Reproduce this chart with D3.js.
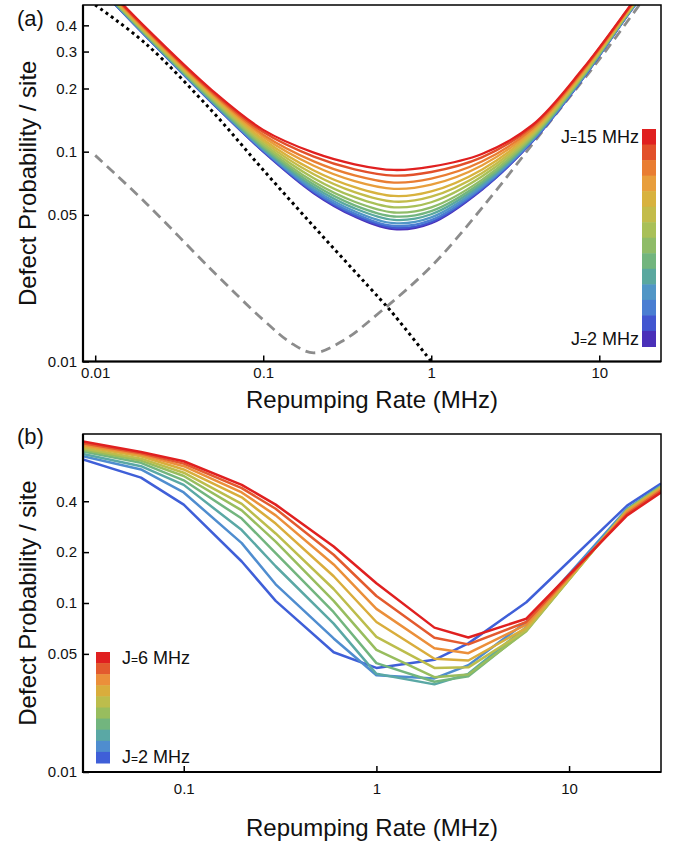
<!DOCTYPE html>
<html lang="en">
<head>
<meta charset="utf-8">
<title>Defect probability vs repumping rate</title>
<script src="https://d3js.org/d3.v7.min.js"></script>
<style>
  body { margin: 0; background: #fff; }
  svg { display: block; font-family: "Liberation Sans", Arial, sans-serif; }
  .axis path { display: none; }
  .axis line { stroke: #000; stroke-width: 1.5; }
  .axis text { font-size: 15px; fill: #111; }
  .title { font-size: 24px; fill: #111; }
  .panel { font-size: 22px; fill: #111; }
  .leg { font-size: 18px; fill: #111; }
</style>
</head>
<body>
<svg width="674" height="845"></svg>
<script>

// ---- panel (a): model curves, J = 15 ... 2 MHz ----
var rateA = [0.01, 0.02, 0.05, 0.1, 0.2, 0.35, 0.6, 1, 2, 4, 8, 16, 20];
var probA = [
  [0.692, 0.390, 0.195, 0.127, 0.0989, 0.0871, 0.0818, 0.0849, 0.0975, 0.134, 0.249, 0.522, 0.662],   // J=15
  [0.685, 0.386, 0.192, 0.124, 0.0947, 0.0824, 0.0769, 0.0800, 0.0939, 0.1317, 0.2463, 0.519, 0.657],
  [0.678, 0.382, 0.189, 0.1205, 0.0899, 0.0771, 0.0712, 0.0744, 0.0897, 0.1289, 0.2432, 0.515, 0.650],
  [0.671, 0.378, 0.187, 0.1175, 0.0857, 0.0724, 0.0665, 0.0696, 0.0860, 0.1264, 0.2404, 0.511, 0.644],
  [0.664, 0.374, 0.184, 0.1143, 0.0814, 0.0678, 0.0615, 0.0647, 0.0821, 0.1238, 0.2373, 0.507, 0.638],
  [0.659, 0.371, 0.181, 0.1117, 0.0780, 0.0641, 0.0578, 0.0610, 0.0790, 0.1216, 0.2349, 0.504, 0.633],
  [0.653, 0.367, 0.179, 0.1091, 0.0748, 0.0607, 0.0543, 0.0574, 0.0761, 0.1195, 0.2325, 0.501, 0.628],
  [0.647, 0.365, 0.177, 0.1069, 0.0718, 0.0577, 0.0513, 0.0543, 0.0734, 0.1176, 0.2302, 0.498, 0.623],
  [0.644, 0.362, 0.175, 0.1052, 0.0697, 0.0555, 0.0491, 0.0521, 0.0715, 0.1161, 0.2286, 0.496, 0.619],
  [0.640, 0.360, 0.173, 0.1038, 0.0679, 0.0537, 0.0473, 0.0503, 0.0699, 0.1149, 0.2272, 0.494, 0.616],
  [0.637, 0.358, 0.172, 0.1023, 0.0663, 0.0520, 0.0456, 0.0486, 0.0684, 0.1138, 0.2258, 0.492, 0.613],
  [0.634, 0.356, 0.171, 0.1014, 0.0650, 0.0507, 0.0443, 0.0472, 0.0672, 0.1128, 0.2247, 0.490, 0.611],
  [0.632, 0.356, 0.170, 0.1005, 0.0640, 0.0497, 0.0434, 0.0462, 0.0663, 0.1121, 0.2239, 0.489, 0.609],
  [0.631, 0.355, 0.170, 0.100, 0.0634, 0.0491, 0.0427, 0.0456, 0.0658, 0.1117, 0.2234, 0.489, 0.608]    // J=2
];
var colorsA = ["#e02020", "#e2502a", "#e97d32", "#e89e3c", "#d8b23e", "#c3bc4a", "#a9c057",
               "#8fbc68", "#72b57e", "#5aa89f", "#5196c6", "#4a7ed2", "#4256d0", "#4a30b9"];

var dottedRate = [0.01, 0.02, 0.05, 0.1, 0.2, 0.35, 0.5, 0.6, 1];
var dottedProb = [0.5, 0.327, 0.155, 0.0818, 0.044, 0.0269, 0.0197, 0.0167, 0.0100];
var dashedRate = [0.01, 0.02, 0.05, 0.1, 0.15, 0.2, 0.3, 0.5, 1, 2, 5, 10, 20];
var dashedProb = [0.096, 0.057, 0.027, 0.0158, 0.0121, 0.0110, 0.0126, 0.0173, 0.0284, 0.0538, 0.1364, 0.275, 0.587];

var xTicksA = [0.01, 0.1, 1, 10];
var yTicksA = [0.01, 0.05, 0.1, 0.2, 0.3, 0.4];
var legendA = ["15", "2"];

// ---- panel (b): J = 6 ... 2 MHz ----
var rateB = [0.03, 0.06, 0.1, 0.2, 0.3, 0.6, 1, 2, 3, 6, 20, 30];
var probB = [
  [0.902, 0.782, 0.690, 0.500, 0.382, 0.216, 0.131, 0.0715, 0.0625, 0.0807, 0.330, 0.451],   // J=6
  [0.882, 0.768, 0.668, 0.478, 0.361, 0.193, 0.110, 0.0622, 0.0569, 0.0772, 0.337, 0.461],
  [0.863, 0.755, 0.645, 0.451, 0.330, 0.169, 0.0923, 0.0540, 0.0505, 0.0744, 0.345, 0.470],
  [0.844, 0.738, 0.617, 0.422, 0.295, 0.144, 0.0772, 0.0468, 0.0457, 0.0712, 0.350, 0.478],
  [0.825, 0.715, 0.590, 0.386, 0.258, 0.121, 0.0631, 0.0413, 0.0416, 0.0690, 0.353, 0.482],
  [0.807, 0.696, 0.564, 0.353, 0.231, 0.103, 0.0528, 0.0364, 0.0377, 0.0681, 0.356, 0.487],
  [0.789, 0.675, 0.532, 0.316, 0.197, 0.0882, 0.0441, 0.0342, 0.0369, 0.0690, 0.356, 0.489],
  [0.761, 0.645, 0.500, 0.270, 0.165, 0.0755, 0.0381, 0.0330, 0.0381, 0.0722, 0.356, 0.491],
  [0.738, 0.617, 0.451, 0.226, 0.129, 0.0617, 0.0374, 0.0358, 0.0428, 0.0772, 0.361, 0.493],
  [0.706, 0.552, 0.382, 0.176, 0.103, 0.0511, 0.0413, 0.0461, 0.0577, 0.101, 0.377, 0.509]    // J=2
];
var colorsB = ["#e02020", "#e35a2e", "#eb8f3a", "#d9ad3c", "#bcbd4c", "#98bd5e", "#72b57e",
               "#5aa8a5", "#4f8dcf", "#3f5fd8"];

var xTicksB = [0.1, 1, 10];
var yTicksB = [0.01, 0.05, 0.1, 0.2, 0.4];
var legendB = ["6", "2"];

var svg = d3.select("svg");
var fmt = d3.format("~g");

function frame(x, y, name, nameY, xTicks, yTicks, xPad, clipId) {
  var x0 = x.range()[0], x1 = x.range()[1], y0 = y.range()[0], y1 = y.range()[1];

  svg.append("clipPath").attr("id", clipId)
    .append("rect").attr("x", x0).attr("y", y1).attr("width", x1 - x0).attr("height", y0 - y1);

  svg.append("g").attr("class", "axis")
      .attr("transform", "translate(0," + y0 + ")")
      .call(d3.axisBottom(x).tickValues(xTicks).tickFormat(fmt).tickSizeInner(-6).tickSizeOuter(0).tickPadding(xPad));
  svg.append("g").attr("class", "axis")
      .attr("transform", "translate(" + x0 + ",0)")
      .call(d3.axisLeft(y).tickValues(yTicks).tickFormat(fmt).tickSizeInner(-6).tickSizeOuter(0).tickPadding(6));

  svg.append("rect").attr("x", x0).attr("y", y1).attr("width", x1 - x0).attr("height", y0 - y1)
    .attr("fill", "none").attr("stroke", "#000").attr("stroke-width", 1.5);
  svg.append("path").attr("d", "M" + x0 + "," + y1 + "V" + y0 + "H" + x1)
    .attr("fill", "none").attr("stroke", "#000").attr("stroke-width", 2.2);

  svg.append("text").attr("class", "panel").attr("x", 17).attr("y", nameY).text(name);
  svg.append("text").attr("class", "title").attr("text-anchor", "middle")
    .attr("transform", "translate(36," + ((y0 + y1) / 2) + ") rotate(-90)")
    .text("Defect Probability / site");
}

function jLabel(sel, v) {
  sel.append("tspan").text("J");
  sel.append("tspan").attr("font-size", "12px").text("=");
  sel.append("tspan").text(v + " MHz");
}

function colorbar(colors, labels, bx, top, bottom, anchor, lx) {
  var band = d3.scaleBand().domain(d3.range(colors.length)).range([top, bottom]);
  svg.append("g").selectAll("rect").data(colors).join("rect")
    .attr("x", bx).attr("width", 14)
    .attr("y", function(d, i) { return band(i); })
    .attr("height", band.bandwidth() + 0.5)
    .attr("fill", function(d) { return d; });
  svg.append("text").attr("class", "leg").attr("text-anchor", anchor)
    .attr("x", lx).attr("y", top + band.bandwidth() / 2 + 6).call(jLabel, labels[0]);
  svg.append("text").attr("class", "leg").attr("text-anchor", anchor)
    .attr("x", lx).attr("y", bottom - band.bandwidth() / 2 + 6).call(jLabel, labels[1]);
}

// ---------- panel (a) ----------
var xA = d3.scaleLog().domain([0.00846, 23.3]).range([83, 661]);
var yA = d3.scaleLog().domain([0.01, 0.5]).range([361.5, 5]);

var gA = svg.append("g").attr("clip-path", "url(#clipA)");
var smooth = d3.curveCatmullRom.alpha(0.5);
var lineA = d3.line().curve(smooth)
  .x(function(d, i) { return xA(rateA[i]); })
  .y(function(d) { return yA(d); });

gA.append("path")
  .attr("d", d3.line().curve(smooth)
    .x(function(d, i) { return xA(dashedRate[i]); }).y(function(d) { return yA(d); })(dashedProb))
  .attr("fill", "none").attr("stroke", "#8c8c8c").attr("stroke-width", 2.8).attr("stroke-dasharray", "10,6");
gA.append("path")
  .attr("d", d3.line().curve(smooth)
    .x(function(d, i) { return xA(dottedRate[i]); }).y(function(d) { return yA(d); })(dottedProb))
  .attr("fill", "none").attr("stroke", "#000").attr("stroke-width", 3).attr("stroke-dasharray", "3,3.5");

gA.selectAll(".cA").data(probA.slice().reverse()).join("path")
  .attr("class", "cA")
  .attr("d", lineA)
  .attr("fill", "none")
  .attr("stroke", function(d, i) { return colorsA[colorsA.length - 1 - i]; })
  .attr("stroke-width", 2.3);

frame(xA, yA, "(a)", 26, xTicksA, yTicksA, 6, "clipA");
svg.append("text").attr("class", "title").attr("text-anchor", "middle")
  .attr("x", 372).attr("y", 408).text("Repumping Rate (MHz)");
colorbar(colorsA, legendA, 642, 129, 346.5, "end", 639);

// ---------- panel (b) ----------
var xB = d3.scaleLog().domain([0.03, 30]).range([83, 661]);
var yB = d3.scaleLog().domain([0.01, 1]).range([772, 434]);

var gB = svg.append("g").attr("clip-path", "url(#clipB)");
var lineB = d3.line()
  .x(function(d, i) { return xB(rateB[i]); })
  .y(function(d) { return yB(d); });

gB.selectAll(".cB").data(probB.slice().reverse()).join("path")
  .attr("class", "cB")
  .attr("d", lineB)
  .attr("fill", "none")
  .attr("stroke", function(d, i) { return colorsB[colorsB.length - 1 - i]; })
  .attr("stroke-width", 2.5)
  .attr("stroke-linejoin", "round");

frame(xB, yB, "(b)", 444, xTicksB, yTicksB, 11, "clipB");
svg.append("text").attr("class", "title").attr("text-anchor", "middle")
  .attr("x", 372).attr("y", 836).text("Repumping Rate (MHz)");
colorbar(colorsB, legendB, 96, 652, 763, "start", 122);

</script>
</body>
</html>
